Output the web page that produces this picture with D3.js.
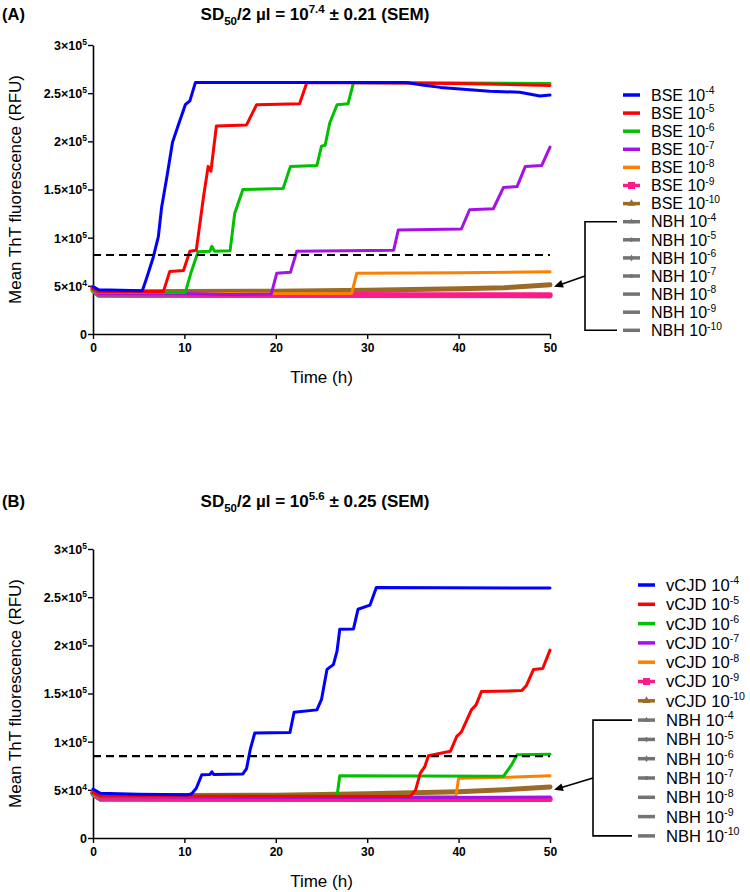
<!DOCTYPE html>
<html><head><meta charset="utf-8">
<script src="https://cdn.jsdelivr.net/npm/d3@7"></script>
<style>body{margin:0;background:#fff} svg{display:block} text{font-family:"Liberation Sans",Arial,Helvetica,sans-serif}</style>
</head><body><svg id="c" width="750" height="892"></svg>
<script>
// ---------- data ----------
const xTicks = [0, 10, 20, 30, 40, 50];
const yTicks = [0, 50000, 100000, 150000, 200000, 250000, 300000];
const yTickLabels = [["0", ""], ["5×10", "4"], ["1×10", "5"], ["1.5×10", "5"], ["2×10", "5"], ["2.5×10", "5"], ["3×10", "5"]];
const dilutions = ["-4", "-5", "-6", "-7", "-8", "-9", "-10"];
const seriesColors = ["#0000ff", "#ff0000", "#00c000", "#a412e6", "#ff8000", "#ff1a8c", "#9b6a25"];
const nbhColor = "#737373";
const titleA = ["SD", "50", "/2 µl = 10", "7.4", " ± 0.21 (SEM)"];
const titleB = ["SD", "50", "/2 µl = 10", "5.6", " ± 0.25 (SEM)"];
const threshA = 82000;
const threshB = 85000;

// Panel A: BSE dilutions [time h, RFU]
const bseA4 = [[0,49000],[0.6,46000],[5.4,45000],[5.9,59000],[6.6,80000],[7.15,101000],[7.5,131000],[8.1,164000],[8.7,199000],[9.3,216000],[10.1,238000],[10.6,242000],[11.2,261000],[34.3,261000],[36,258500],[38,256000],[43.4,252000],[46.7,251000],[48.9,247000],[50,248000]];
const bseA5 = [[0,47000],[0.6,44000],[7.7,44000],[8.4,65000],[9.9,66000],[10.6,86000],[11.3,87000],[12.1,143000],[12.6,174000],[12.9,169000],[13.5,216000],[16.8,217000],[17.9,238000],[22.6,239000],[23.4,261000],[40,260000],[50,258000]];
const bseA6 = [[0,46000],[0.6,43000],[10.1,43000],[10.7,63000],[11.5,85500],[12.8,86000],[13.0,91000],[13.3,86000],[15.0,86500],[15.5,125000],[16.4,150000],[20.8,151000],[21.6,174000],[24.5,175000],[25.0,195000],[25.4,196000],[25.9,219000],[26.7,238000],[27.9,239000],[28.5,261000],[50,260000]];
const bseA7 = [[0,46000],[0.6,42000],[10,42000],[15,41000],[19.5,41500],[20.1,63000],[21.6,64000],[22.3,86000],[32.9,87000],[33.4,108000],[40.3,109000],[41.2,129000],[43.8,130000],[44.9,152000],[46.4,153000],[47.3,174000],[49.1,175000],[50,194000]];
const bseA8 = [[0,45000],[0.6,42000],[28.3,42000],[28.85,63000],[40,63500],[50,64500]];
const bseA9 = [[0,48000],[0.6,42000],[10,41500],[20,41000],[35,40500],[50,40500]];
const bseA10 = [[0,46000],[0.6,43500],[10,44000],[20,44500],[30,45500],[40,47000],[45,48000],[50,51000]];
const nbhA = [
  [[0,45000],[0.6,40000],[25,39500],[50,39000]],
  [[0,45000],[0.6,40500],[25,40000],[50,39500]],
  [[0,46000],[0.6,41000],[25,40500],[50,40000]],
  [[0,45000],[0.6,40000],[25,40000],[50,39500]],
  [[0,46000],[0.6,40500],[25,40500],[50,40500]],
  [[0,45000],[0.6,40000],[25,39500],[50,40000]],
  [[0,45000],[0.6,40500],[25,40000],[50,40000]]
];

// Panel B: vCJD dilutions
const cjdB4 = [[0,50700],[0.8,46500],[5,45500],[10.25,44800],[10.8,46000],[11.3,51700],[11.9,65600],[12.8,66000],[13.0,68700],[13.2,66000],[16.4,66500],[16.8,72000],[17.2,91700],[17.7,109000],[21.55,109500],[22.0,130500],[24.5,133000],[25.0,143800],[25.6,175000],[26.3,180000],[26.7,194000],[27.0,216700],[28.5,217000],[29.0,237500],[30.3,241700],[31.0,260000],[50,259500]];
const cjdB5 = [[0,47000],[0.8,43500],[34.7,43000],[35.3,50000],[35.8,67000],[36.3,74000],[36.7,85400],[39.1,90000],[39.8,105500],[40.3,110000],[41.4,133000],[41.9,138000],[42.5,152000],[46.9,153000],[47.4,158000],[48.2,175000],[49.2,176000],[50,195000]];
const cjdB6 = [[0,46000],[0.8,43000],[26.7,43500],[27.0,64600],[44.9,64000],[45.8,76000],[46.4,86500],[50,87000]];
const cjdB7 = [[0,46000],[0.8,42500],[20,42000],[35,42000],[50,42500]];
const cjdB8 = [[0,45000],[0.8,42500],[39.7,43000],[40.0,62000],[45,63000],[50,64500]];
const cjdB9 = [[0,47000],[0.8,41500],[20,41000],[40,40500],[50,40500]];
const cjdB10 = [[0,46000],[0.8,43500],[10,44000],[20,44500],[30,46000],[40,48000],[45,50000],[50,53000]];
const nbhB = [
  [[0,45000],[0.8,40000],[25,39500],[50,39500]],
  [[0,45000],[0.8,40500],[25,40000],[50,40000]],
  [[0,46000],[0.8,41000],[25,40500],[50,40500]],
  [[0,45000],[0.8,40000],[25,40000],[50,40000]],
  [[0,46000],[0.8,40500],[25,40500],[50,41000]],
  [[0,45000],[0.8,40000],[25,39500],[50,40000]],
  [[0,45000],[0.8,40500],[25,40000],[50,40500]]
];

// ---------- drawing ----------
const svg = d3.select("#c");
const FONT = '"Liberation Sans",Arial,Helvetica,sans-serif';

function panel(cfg) {
  const g = svg.append("g");
  const x = d3.scaleLinear().domain([0, 50]).range([cfg.left, cfg.right]);
  const y = d3.scaleLinear().domain([0, 300000]).range([cfg.bottom, cfg.top]);

  // panel letter
  g.append("text").attr("x", 2).attr("y", cfg.titleY).attr("font-size", 16.5).attr("font-weight", "bold").text(cfg.letter);
  // title
  const t = g.append("text").attr("x", cfg.titleX).attr("y", cfg.titleY)
    .attr("text-anchor", "middle").attr("font-size", 17).attr("font-weight", "bold");
  t.append("tspan").text(cfg.title[0]);
  t.append("tspan").attr("font-size", 11.5).attr("dy", 4.5).text(cfg.title[1]);
  t.append("tspan").attr("dy", -4.5).text(cfg.title[2]);
  t.append("tspan").attr("font-size", 11.5).attr("dy", -7).text(cfg.title[3]);
  t.append("tspan").attr("dy", 7).text(cfg.title[4]);

  // axes
  const xa = g.append("g").attr("transform", `translate(0,${cfg.bottom})`)
    .call(d3.axisBottom(x).tickValues(xTicks).tickSize(5).tickSizeOuter(0).tickPadding(4));
  xa.selectAll("text").attr("font-size", 12).attr("font-weight", "bold").attr("font-family", FONT).attr("fill", "#000");
  const ya = g.append("g").attr("transform", `translate(${cfg.left},0)`)
    .call(d3.axisLeft(y).tickValues(yTicks).tickSize(5).tickSizeOuter(0).tickFormat(() => ""));
  [xa, ya].forEach(a => {
    a.select(".domain").attr("stroke", "#000").attr("stroke-width", 1.6);
    a.selectAll(".tick line").attr("stroke", "#000").attr("stroke-width", 1.4);
  });
  ya.selectAll(".tick").each(function (d, i) {
    const tx = d3.select(this).append("text").attr("x", -6).attr("dy", "0.35em")
      .attr("text-anchor", "end").attr("font-size", 12.5).attr("font-weight", "bold").attr("fill", "#000").attr("font-family", FONT);
    tx.append("tspan").text(yTickLabels[i][0]);
    if (yTickLabels[i][1]) tx.append("tspan").attr("font-size", 8.5).attr("dy", -5).text(yTickLabels[i][1]);
  });

  // axis titles
  g.append("text").attr("transform", `translate(21,${(cfg.top + cfg.bottom) / 2}) rotate(-90)`)
    .attr("text-anchor", "middle").attr("font-size", 17).text("Mean ThT fluorescence (RFU)");
  g.append("text").attr("x", (cfg.left + cfg.right) / 2).attr("y", cfg.bottom + 49)
    .attr("text-anchor", "middle").attr("font-size", 17).text("Time (h)");

  // lines
  const line = d3.line().x(d => x(d[0])).y(d => y(d[1]));
  const lines = g.append("g").attr("fill", "none").attr("stroke-linejoin", "round").attr("stroke-linecap", "round");
  cfg.nbh.forEach(s => lines.append("path").attr("d", line(s)).attr("stroke", nbhColor).attr("stroke-width", 4));
  const order = [6, 5, 4, 3, 2, 1, 0];
  order.forEach(i => {
    lines.append("path").attr("d", line(cfg.series[i])).attr("stroke", seriesColors[i])
      .attr("stroke-width", i === 5 ? 5.5 : i === 6 ? 5 : 3);
  });
  // threshold
  g.append("line").attr("x1", x(0)).attr("x2", x(50)).attr("y1", y(cfg.thresh)).attr("y2", y(cfg.thresh))
    .attr("stroke", "#000").attr("stroke-width", 2.2).attr("stroke-dasharray", "8,5");

  // legend
  const lg = g.append("g");
  const labels = [];
  dilutions.forEach((d, i) => labels.push({ name: cfg.name, exp: d, color: seriesColors[i], mark: i === 5 ? "square" : i === 6 ? "tri" : null }));
  const nbhMarks = ["tri", "plus", "diamond", "circle", null, null, null];
  dilutions.forEach((d, i) => labels.push({ name: "NBH", exp: d, color: nbhColor, mark: nbhMarks[i] }));
  labels.forEach((l, i) => {
    const yy = cfg.legTop + i * cfg.legStep;
    lg.append("line").attr("x1", cfg.legX).attr("x2", cfg.legX + 17).attr("y1", yy).attr("y2", yy)
      .attr("stroke", l.color).attr("stroke-width", 3.5);
    const cx = cfg.legX + 8.5;
    if (l.mark === "square") lg.append("rect").attr("x", cx - 3.5).attr("y", yy - 3.5).attr("width", 7).attr("height", 7).attr("fill", l.color);
    if (l.mark === "tri") lg.append("path").attr("d", d3.symbol(d3.symbolTriangle, l.name === "NBH" ? 14 : 26)()).attr("transform", `translate(${cx},${yy})`).attr("fill", l.color);
    if (l.mark === "plus") lg.append("path").attr("d", d3.symbol(d3.symbolCross, 12)()).attr("transform", `translate(${cx},${yy})`).attr("fill", l.color);
    if (l.mark === "diamond") lg.append("path").attr("d", d3.symbol(d3.symbolDiamond, 14)()).attr("transform", `translate(${cx},${yy})`).attr("fill", l.color);
    if (l.mark === "circle") lg.append("path").attr("d", d3.symbol(d3.symbolCircle, 12)()).attr("transform", `translate(${cx},${yy})`).attr("fill", l.color);
    const tx = lg.append("text").attr("x", cfg.legX + 28).attr("y", yy + cfg.legFont * 0.36).attr("font-size", cfg.legFont);
    tx.append("tspan").text(l.name + " 10");
    tx.append("tspan").attr("font-size", cfg.legFont * 0.64).attr("dy", -cfg.legFont * 0.4).text(l.exp);
  });
  // bracket + arrow
  const yTopB = cfg.legTop + 7 * cfg.legStep, yBotB = cfg.legTop + 13 * cfg.legStep;
  const bx = cfg.brX, hx = cfg.legX - 6;
  lg.append("path").attr("d", `M${hx},${yTopB}H${bx}V${yBotB}H${hx}`).attr("fill", "none").attr("stroke", "#000").attr("stroke-width", 1.6);
  const midY = cfg.legTop + 10 * cfg.legStep;
  const tipX = x(50) + 4, tipY = y(cfg.arrowV);
  const ang = Math.atan2(tipY - midY, tipX - bx);
  const ah = 9, aw = 4;
  lg.append("line").attr("x1", bx).attr("y1", midY)
    .attr("x2", tipX - (ah - 1) * Math.cos(ang)).attr("y2", tipY - (ah - 1) * Math.sin(ang))
    .attr("stroke", "#000").attr("stroke-width", 1.6);
  const p1 = [tipX - ah * Math.cos(ang) + aw * Math.sin(ang), tipY - ah * Math.sin(ang) - aw * Math.cos(ang)];
  const p2 = [tipX - ah * Math.cos(ang) - aw * Math.sin(ang), tipY - ah * Math.sin(ang) + aw * Math.cos(ang)];
  lg.append("path").attr("d", `M${tipX},${tipY}L${p1[0]},${p1[1]}L${p2[0]},${p2[1]}Z`).attr("fill", "#000");
}

panel({ letter: "(A)", title: titleA, titleX: 315, titleY: 20, left: 93, right: 550, top: 45, bottom: 334,
  series: [bseA4, bseA5, bseA6, bseA7, bseA8, bseA9, bseA10], nbh: nbhA, thresh: threshA, name: "BSE",
  legX: 623, legTop: 95, legStep: 18.1, legFont: 16, brX: 585, arrowV: 49000 });
panel({ letter: "(B)", title: titleB, titleX: 315, titleY: 507, left: 93, right: 550, top: 549, bottom: 838,
  series: [cjdB4, cjdB5, cjdB6, cjdB7, cjdB8, cjdB9, cjdB10], nbh: nbhB, thresh: threshB, name: "vCJD",
  legX: 638, legTop: 585, legStep: 19.3, legFont: 16.6, brX: 593, arrowV: 50000 });
</script></body></html>
